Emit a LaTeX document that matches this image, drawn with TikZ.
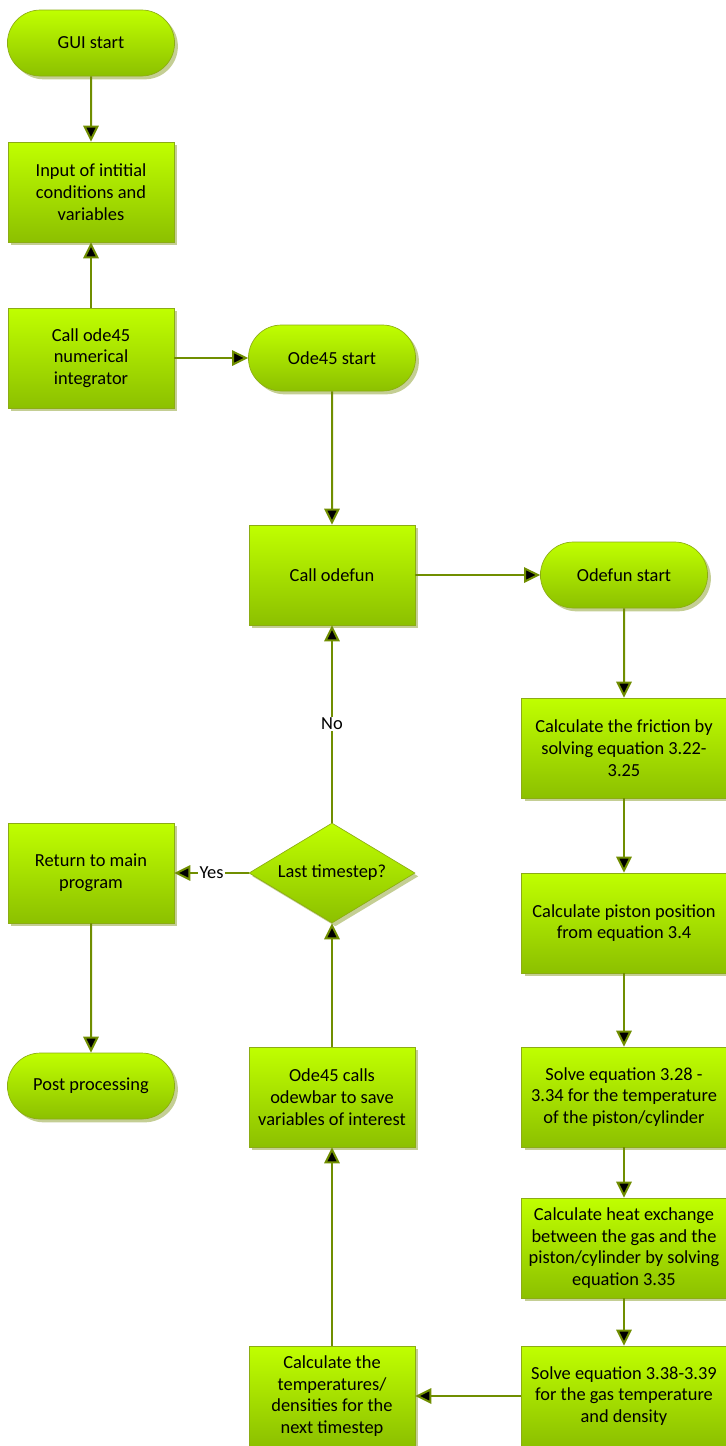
\documentclass[tikz,border=0pt]{standalone}
\usepackage{fontspec}
\setmainfont{Carlito}
\usetikzlibrary{shapes.misc, shapes.geometric, shadows, arrows.meta}

\definecolor{limetop}{RGB}{192,255,0}
\definecolor{limebot}{RGB}{140,192,0}
\definecolor{limeline}{RGB}{140,172,20}
\definecolor{arrowgreen}{RGB}{112,142,0}
\definecolor{shadowgreen}{RGB}{196,206,148}

\begin{document}
\begin{tikzpicture}[x=0.75pt, y=-0.75pt,
    every node/.style={font=\fontsize{13.8}{16.3}\selectfont, align=center, text=black},
    base/.style={draw=limeline, line width=0.5pt, top color=limetop, bottom color=limebot,
        drop shadow={shadow xshift=2.5pt, shadow yshift=-2.5pt, fill=shadowgreen, opacity=1}},
    process/.style={base, rectangle, minimum width=124.5pt, minimum height=75pt, inner sep=2pt},
    wideprocess/.style={process, minimum width=154pt},
    terminal/.style={base, rounded rectangle, minimum width=132pt, minimum height=49.5pt},
    decision/.style={base, diamond, aspect=1.66, minimum width=124.5pt, minimum height=75pt, inner sep=0pt},
    >={Triangle[length=12pt,width=11.5pt]}]
    \useasboundingbox (0,0) rectangle (725,1446);

    % left column
    \node[terminal] (gui) at (91,43) {GUI start};
    \node[process] (input) at (91,192) {Input of intitial\\conditions and\\variables};
    \node[process] (callode) at (91,358) {Call ode45\\numerical\\integrator};
    \node[process] (return) at (91,873) {Return to main\\program};
    \node[terminal] (post) at (91,1086) {Post processing};

    % middle column
    \node[terminal] (odestart) at (332,358) {Ode45 start};
    \node[process] (callfun) at (332,575) {Call odefun};
    \node[decision] (last) at (332,873) {Last timestep?};
    \node[process] (save) at (332,1097) {Ode45 calls\\odewbar to save\\variables of interest};
    \node[process] (temps) at (332,1396) {Calculate the\\temperatures/\\densities for the\\next timestep};

    % right column
    \node[terminal] (funstart) at (624,575) {Odefun start};
    \node[wideprocess] (friction) at (624,748) {Calculate the friction by\\solving equation 3.22-\\3.25};
    \node[wideprocess] (piston) at (624,923) {Calculate piston position\\from equation 3.4};
    \node[wideprocess] (cyl) at (624,1097) {Solve equation 3.28 -\\3.34 for the temperature\\of the piston/cylinder};
    \node[wideprocess] (heat) at (624,1248) {Calculate heat exchange\\between the gas and the\\piston/cylinder by solving\\equation 3.35};
    \node[wideprocess] (gas) at (624,1396) {Solve equation 3.38-3.39\\for the gas temperature\\and density};

    \path[->, draw=arrowgreen, line width=1.5pt]
    (gui) edge (input)
    (callode) edge (input)
    edge (odestart)
    (odestart) edge (callfun)
    (callfun) edge (funstart)
    (funstart) edge (friction)
    (friction) edge (piston)
    (piston) edge (cyl)
    (cyl) edge (heat)
    (heat) edge (gas)
    (gas) edge (temps)
    (temps) edge (save)
    (save) edge (last)
    (last) edge node[fill=white, inner sep=1pt] {No} (callfun)
    edge node[fill=white, inner sep=1pt] {Yes} (return)
    (return) edge (post);
\end{tikzpicture}
\end{document}
